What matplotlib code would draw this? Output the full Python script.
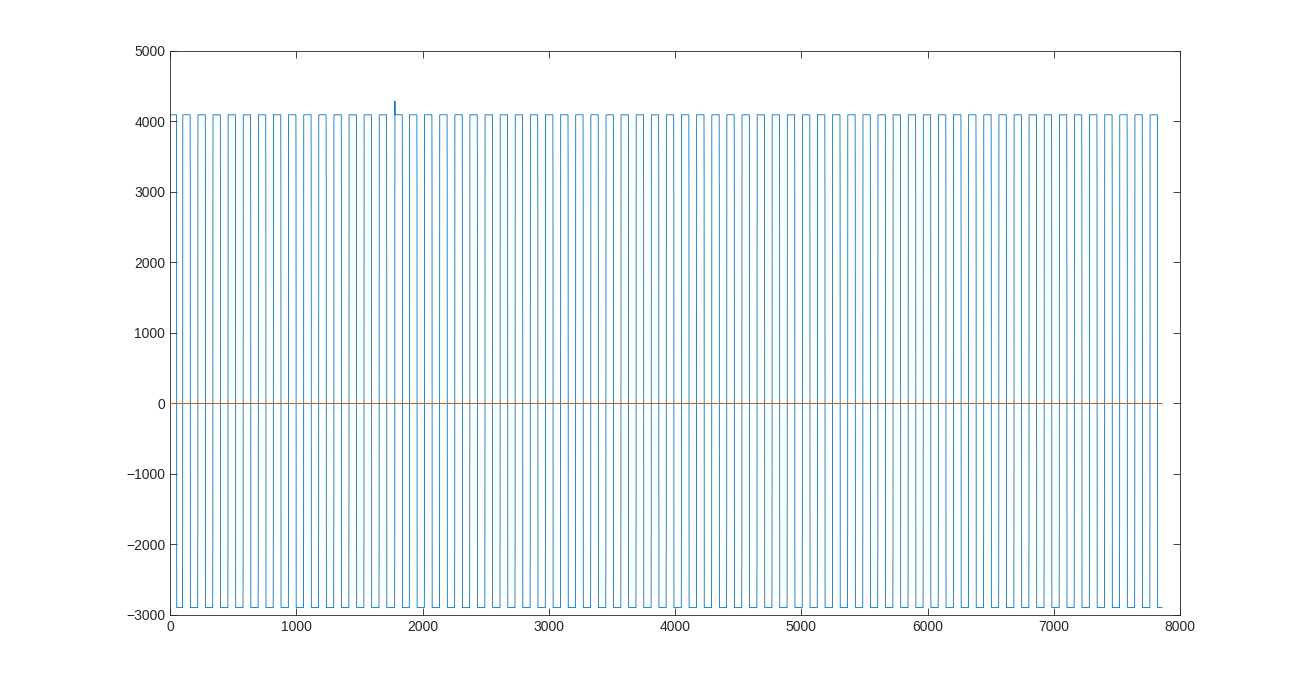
import numpy as np
import matplotlib.pyplot as plt

# sample index of each rising edge
rise_idx = [100, 220, 339, 459, 579, 699, 818, 938, 1058, 1177,
            1297, 1417, 1536, 1656, 1780, 1896, 2015, 2135, 2255, 2374,
            2494, 2614, 2733, 2853, 2973, 3093, 3212, 3332, 3452, 3571,
            3691, 3811, 3930, 4050, 4170, 4290, 4409, 4529, 4649, 4768,
            4888, 5008, 5127, 5247, 5367, 5487, 5606, 5726, 5846, 5965,
            6085, 6205, 6324, 6444, 6564, 6684, 6803, 6923, 7043, 7162,
            7282, 7402, 7521, 7641, 7761]
# sample index of each falling edge
fall_idx = [52, 160, 280, 399, 519, 639, 759, 878, 998, 1118, 1237,
            1357, 1477, 1596, 1716, 1840, 1956, 2075, 2195, 2315, 2434,
            2554, 2674, 2793, 2913, 3033, 3153, 3272, 3392, 3512, 3631,
            3751, 3871, 3990, 4110, 4230, 4350, 4469, 4589, 4709, 4828,
            4948, 5068, 5187, 5307, 5427, 5547, 5666, 5786, 5906, 6025,
            6145, 6265, 6384, 6504, 6624, 6744, 6863, 6983, 7103, 7222,
            7342, 7462, 7581, 7701, 7821]
n_samples = 7858
high_level = 4095
low_level = -2895
fall_mid = 2950     # one sample caught half way down
rise_mid = -1720    # one sample caught half way up
spike_idx = 1781
spike_val = 4290

# build the sampled signal from the edges
sig = np.full(n_samples, float(high_level))
edges = sorted([(i, 'r') for i in rise_idx] + [(i, 'f') for i in fall_idx])
level = high_level
start = 0
for idx, kind in edges:
    sig[start:idx] = level
    if kind == 'f':
        sig[idx] = fall_mid
        level = low_level
    else:
        sig[idx] = rise_mid
        level = high_level
    start = idx + 1
sig[start:] = level
sig[spike_idx] = spike_val

x = np.arange(n_samples)
ref = np.zeros(n_samples)

plt.rcParams['font.family'] = ['Liberation Sans', 'DejaVu Sans']
fig = plt.figure(figsize=(13.04, 6.91), dpi=100)
ax = fig.add_axes([0.1304, 0.110, 0.7746, 0.8162])
ax.plot(x, sig, color='#0072BD', lw=0.6)
ax.plot(x, ref, color='#D95319', lw=0.7, zorder=3)
ax.set_xlim(0, 8000)
ax.set_ylim(-3000, 5000)
ax.set_xticks(np.arange(0, 8001, 1000))
ax.set_yticks(np.arange(-3000, 5001, 1000))
ax.tick_params(direction='in', top=True, right=True, length=5, width=0.6,
               labelsize=10, labelcolor='#262626', color='#262626')
for s in ax.spines.values():
    s.set_color('#262626')
    s.set_linewidth(0.6)
fig.savefig('out.png', dpi=100)
